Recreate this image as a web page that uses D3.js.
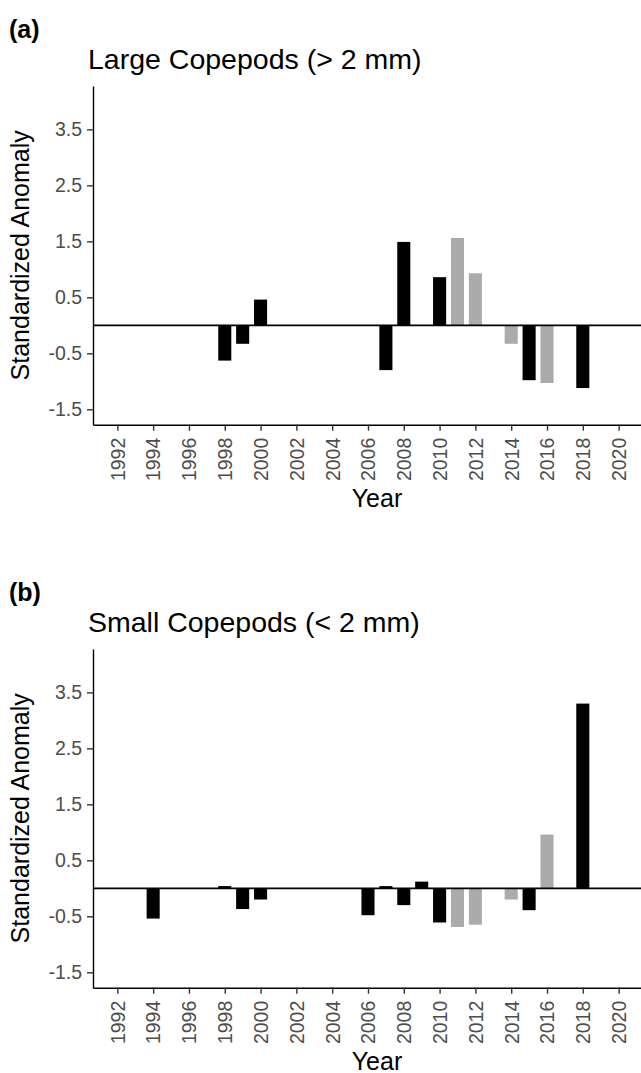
<!DOCTYPE HTML>
<html>
    <head>
        <meta charset="utf-8">
        <script src="https://d3js.org/d3.v7.min.js"></script>
        <style>
            body { margin: 0; background: #fff; }
            svg { font-family: "Liberation Sans", Arial, sans-serif; }
            .axis .domain { stroke: #000; stroke-width: 1.4; }
            .axis .tick line { stroke: #333; stroke-width: 1.4; }
            .axis .tick text { fill: #4d4d4d; font-size: 19.5px; }
        </style>
    </head>
    <body>
        <svg width="641" height="1073"></svg>
        <script>
            // values
            var years = [1994, 1998, 1999, 2000, 2006, 2007, 2008, 2009, 2010, 2011, 2012, 2014, 2015, 2016, 2018];
            var largeValues = [null, -0.63, -0.33, 0.46, null, -0.80, 1.49, null, 0.86, 1.56, 0.93, -0.33, -0.98, -1.03, -1.12];
            var smallValues = [-0.54, 0.04, -0.37, -0.20, -0.48, 0.04, -0.30, 0.12, -0.61, -0.69, -0.65, -0.20, -0.39, 0.96, 3.30];
            var grayYears = [2011, 2012, 2014, 2016];

            var yearTicks = [1992, 1994, 1996, 1998, 2000, 2002, 2004, 2006, 2008, 2010, 2012, 2014, 2016, 2018, 2020];
            var anomalyTicks = [-1.5, -0.5, 0.5, 1.5, 2.5, 3.5];

            var svg = d3.select("svg");

            var plotLeft = 93, plotRight = 641, plotTop = 86, plotBottom = 424.7;
            var barHalf = 0.365;

            var x = d3.scaleLinear().domain([1990.64, 2021.25]).range([plotLeft, plotRight]);
            var y = d3.scaleLinear().domain([-1.775, 4.275]).range([plotBottom, plotTop]);

            function drawPanel(offset, tag, title, values) {
                var data = years.map(function(yr, i) { return { year: yr, value: values[i] }; })
                                .filter(function(d) { return d.value !== null; });

                var g = svg.append("g").attr("transform", "translate(0," + offset + ")");

                g.append("text")
                 .attr("x", 9)
                 .attr("y", 38)
                 .attr("font-size", "25px")
                 .attr("font-weight", "bold")
                 .text(tag);

                g.append("text")
                 .attr("x", 88)
                 .attr("y", 69)
                 .attr("font-size", "28.5px")
                 .text(title);

                g.selectAll(".bar")
                 .data(data)
                 .enter().append("rect")
                 .attr("class", "bar")
                 .attr("x", function(d) { return x(d.year - barHalf); })
                 .attr("width", function(d) { return x(d.year + barHalf) - x(d.year - barHalf); })
                 .attr("y", function(d) { return y(Math.max(0, d.value)); })
                 .attr("height", function(d) { return Math.abs(y(d.value) - y(0)); })
                 .attr("fill", function(d) { return grayYears.indexOf(d.year) >= 0 ? "#ababab" : "#000"; });

                // zero line
                g.append("line")
                 .attr("x1", plotLeft).attr("x2", plotRight)
                 .attr("y1", y(0)).attr("y2", y(0))
                 .attr("stroke", "#000")
                 .attr("stroke-width", 1.6);

                g.append("g")
                 .attr("class", "axis")
                 .attr("transform", "translate(" + plotLeft + ",0)")
                 .call(d3.axisLeft(y).tickValues(anomalyTicks).tickSize(6).tickSizeOuter(0).tickPadding(5)
                        .tickFormat(function(d) { return d.toFixed(1); }));

                var xa = g.append("g")
                 .attr("class", "axis")
                 .attr("transform", "translate(0," + plotBottom + ")")
                 .call(d3.axisBottom(x).tickValues(yearTicks).tickSize(6).tickSizeOuter(0)
                        .tickFormat(function(d) { return d; }));

                xa.selectAll(".tick text")
                  .attr("transform", "rotate(-90)")
                  .attr("text-anchor", "end")
                  .attr("x", -13)
                  .attr("y", 0)
                  .attr("dy", "0.35em");

                g.append("text")
                 .attr("transform", "translate(29," + ((plotTop + plotBottom) / 2) + ") rotate(-90)")
                 .attr("text-anchor", "middle")
                 .attr("font-size", "25px")
                 .text("Standardized Anomaly");

                g.append("text")
                 .attr("x", (plotLeft + plotRight) / 2 + 10)
                 .attr("y", 507)
                 .attr("text-anchor", "middle")
                 .attr("font-size", "25px")
                 .text("Year");
            }

            drawPanel(0, "(a)", "Large Copepods (> 2 mm)", largeValues);
            drawPanel(563, "(b)", "Small Copepods (< 2 mm)", smallValues);
        </script>
    </body>
</html>
